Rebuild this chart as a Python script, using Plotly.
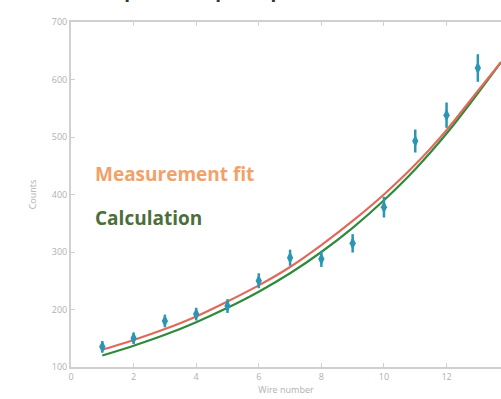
import plotly.graph_objects as go

# Measured counts per wire with uncertainties
wire = [1, 2, 3, 4, 5, 6, 7, 8, 9, 10, 11, 12, 13]
counts = [135, 150, 180, 192, 206, 250, 290, 288, 315, 378, 493, 538, 620]
counts_err = [10, 10, 11, 11, 12, 13, 14, 14, 16, 18, 20, 22, 24]

# Fitted and calculated profiles
curve_x = [1, 2, 3, 4, 5, 6, 7, 8, 9, 10, 11, 12, 13, 13.74]
fit_y = [130, 147, 166, 188, 214, 242, 274, 312, 354, 400, 452, 512, 580, 630]
calc_y = [120, 137, 156, 178, 203, 231, 263, 300, 342, 390, 444, 506, 576, 630]

x_ticks = [0, 2, 4, 6, 8, 10, 12]
y_ticks = [100, 200, 300, 400, 500, 600, 700]

fig = go.Figure()

fig.add_trace(go.Scatter(
    x=curve_x, y=calc_y, mode="lines", line_shape="spline",
    line=dict(color="#2f8a3e", width=2.2), showlegend=False,
))
fig.add_trace(go.Scatter(
    x=curve_x, y=fit_y, mode="lines", line_shape="spline",
    line=dict(color="#e06a5a", width=2.2), showlegend=False,
))
fig.add_trace(go.Scatter(
    x=wire, y=counts, mode="markers",
    marker=dict(symbol="diamond-tall", size=9, color="#2a96b4"),
    error_y=dict(type="data", array=counts_err, color="#2a96b4", thickness=2.5, width=0),
    showlegend=False,
))

axis_font = dict(family="Open Sans, sans-serif", size=9, color="#b0b0b0")

fig.update_layout(
    width=501, height=399,
    margin=dict(l=71, r=0, t=22, b=32),
    paper_bgcolor="white", plot_bgcolor="white",
    xaxis=dict(
        range=[0, 13.74], tickvals=x_ticks, showgrid=False, zeroline=False,
        showline=True, linecolor="#d0d0d0", linewidth=2, mirror="ticks",
        ticks="inside", ticklen=4, tickcolor="#d0d0d0", tickfont=axis_font,
        title=dict(text="Wire number", font=axis_font, standoff=4),
    ),
    yaxis=dict(
        range=[100, 700], tickvals=y_ticks, showgrid=False, zeroline=False,
        showline=True, linecolor="#d0d0d0", linewidth=2,
        ticks="inside", ticklen=4, tickcolor="#d0d0d0", tickfont=axis_font,
        title=dict(text="Counts", font=axis_font, standoff=14),
    ),
    annotations=[
        dict(text="Depth absorption profile of the neutrons", xref="paper", yref="paper",
             x=0.514, y=1.0, yshift=17, xanchor="center", yanchor="bottom", showarrow=False,
             font=dict(family="Open Sans, sans-serif", size=19, color="#333333", weight="bold")),
        dict(text="Measurement fit", xref="paper", yref="paper", x=0.05, y=0.558,
             xanchor="left", yanchor="middle", showarrow=False,
             font=dict(family="Open Sans, sans-serif", size=19, color="#f0a26a", weight="bold")),
        dict(text="Calculation", xref="paper", yref="paper", x=0.05, y=0.433,
             xanchor="left", yanchor="middle", showarrow=False,
             font=dict(family="Open Sans, sans-serif", size=19, color="#4c6e3c", weight="bold")),
    ],
)

fig.write_html("out.html")
